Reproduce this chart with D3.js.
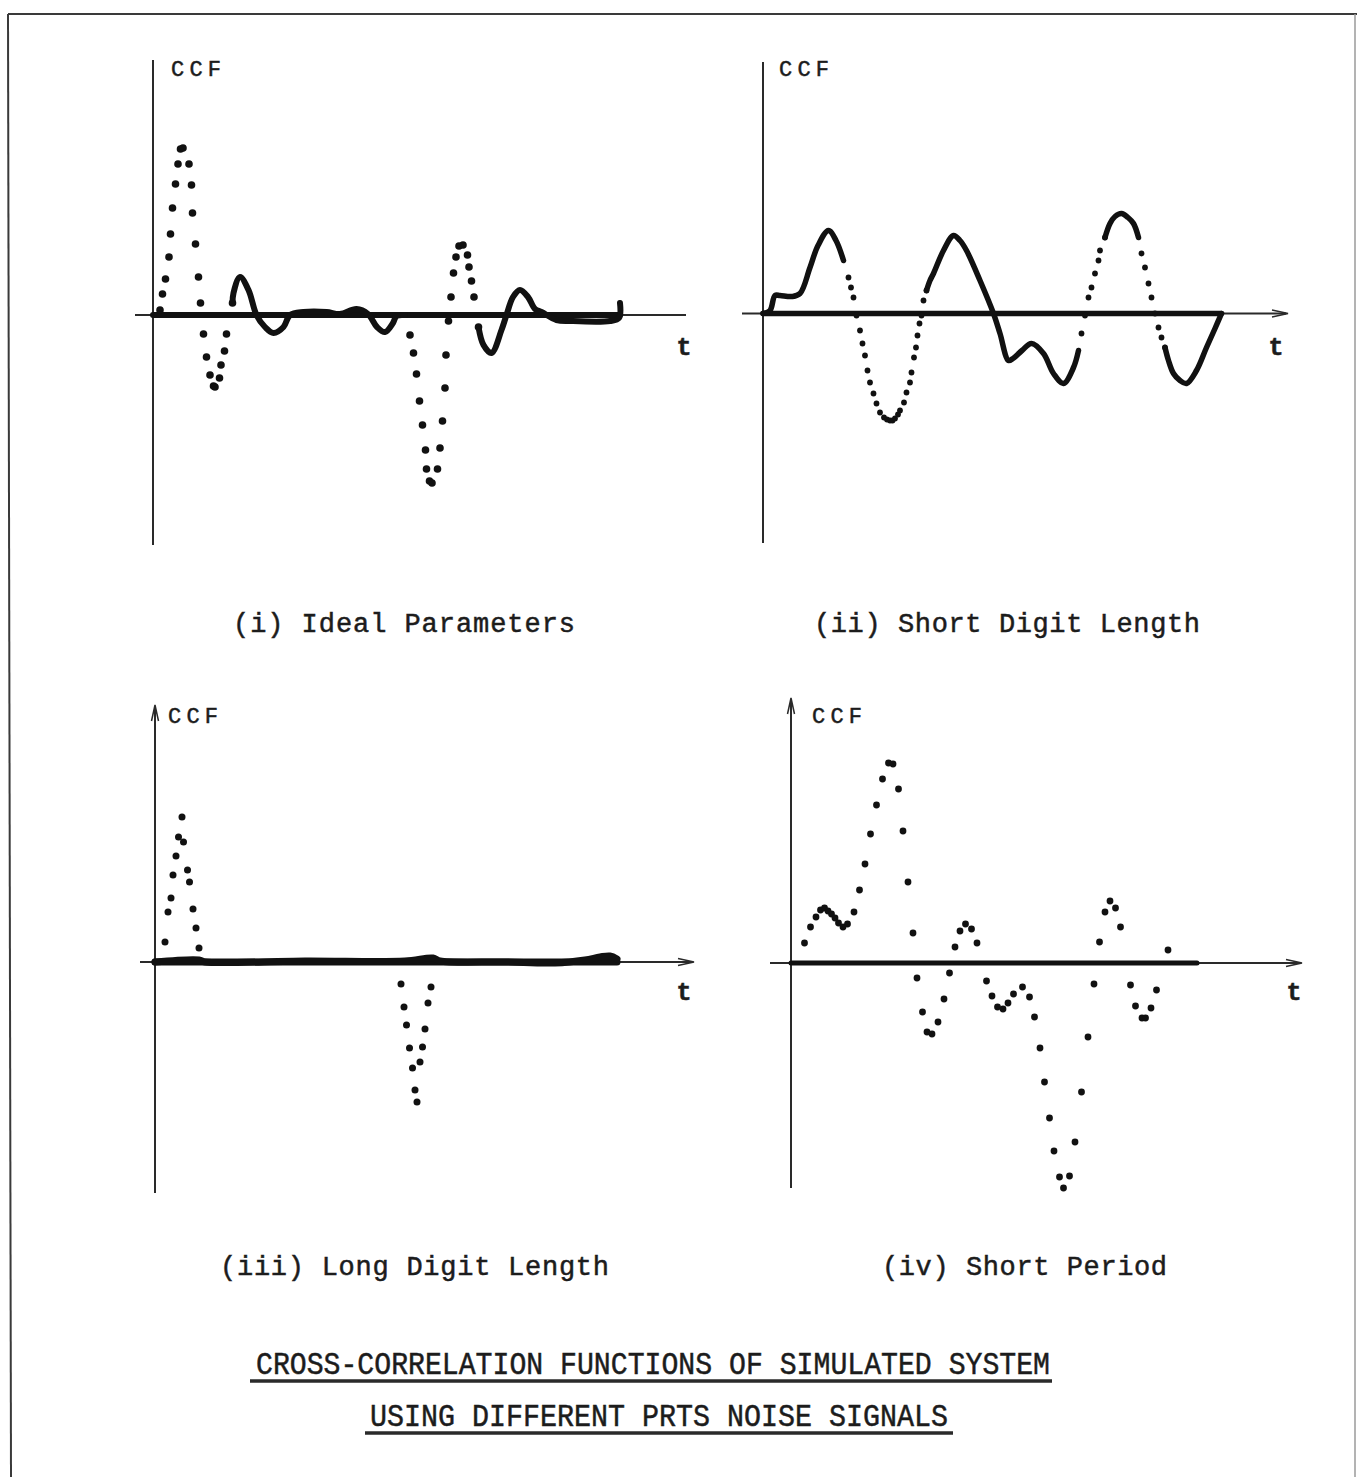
<!DOCTYPE html>
<html>
<head>
<meta charset="utf-8">
<script src="https://cdn.jsdelivr.net/npm/d3@7"></script>
<style>
  body { margin: 0; background: #fff; }
  svg { display: block; }
  text { font-family: "Liberation Mono", "Courier New", monospace; fill: #1c1c1c; stroke: #1c1c1c; stroke-width: 0.5px; }
</style>
</head>
<body>
<script>
// values: t in units of 5 px, CCF in units of 100 px

// (i) ideal parameters
var dotsI = [[1.4,0.05],[1.9,0.21],[2.5,0.36],[3.2,0.58],[3.5,0.81],[3.9,1.07],[4.5,1.31],[5.0,1.51],
  [5.5,1.66],[6.0,1.67],[7.2,1.51],[7.7,1.30],[7.9,1.02],[8.5,0.71],[9.1,0.38],[9.5,0.12],
  [10.1,-0.19],[10.7,-0.42],[11.4,-0.60],[12.1,-0.71],[12.4,-0.72],[13.3,-0.63],[13.6,-0.50],
  [14.3,-0.36],[14.7,-0.19],[15.9,0.12],
  [51.4,-0.20],[52.1,-0.38],[52.7,-0.59],[53.3,-0.86],[53.9,-1.10],[54.5,-1.35],[54.7,-1.54],
  [55.3,-1.66],[55.8,-1.68],[56.9,-1.54],[57.4,-1.33],[57.9,-1.06],[58.4,-0.73],[58.6,-0.40],
  [59.1,-0.06],[59.6,0.18],[60.1,0.42],[60.6,0.58],[61.2,0.69],[62.0,0.70],[62.9,0.60],
  [63.2,0.48],[63.7,0.34],[64.2,0.18],[65.1,-0.12]];
var traceI = [
  [[15.9,0.12],[16.1,0.22],[17.4,0.38],[19.1,0.25],[20.7,0],[22.4,-0.12],[24.1,-0.18],[26.1,-0.12],
   [27.4,0],[30.1,0.03],[34.7,0.03],[37.4,0.01],[40.7,0.06],[43.0,0.01],[44.8,-0.12],[46.4,-0.17],
   [48.0,-0.08],[48.7,-0.01],[50.4,0]],
  [[65.1,-0.12],[66.1,-0.30],[67.7,-0.38],[69.7,-0.15],[70.7,0],[72.0,0.18],[73.4,0.25],[75.0,0.18],
   [76.4,0.06],[77.7,0.03],[80.7,-0.05],[83.4,-0.06],[91.4,-0.06],[93.2,-0.03],[93.4,0.12]]
];
var endI = 93.4;

// (ii) short digit length
var dotsII = [[17.1,0.36],[17.6,0.26],[18.1,0.16],[18.7,-0.02],[19.4,-0.17],[19.9,-0.30],[20.4,-0.42],
  [20.9,-0.57],[21.4,-0.69],[22.1,-0.80],[22.7,-0.90],[23.4,-0.99],[24.2,-1.04],[24.8,-1.06],
  [25.4,-1.07],[25.9,-1.07],[26.4,-1.05],[27.0,-1.01],[27.4,-0.97],[28.2,-0.89],[28.7,-0.79],
  [29.4,-0.69],[29.7,-0.59],[30.2,-0.44],[30.6,-0.34],[30.9,-0.22],[31.3,-0.10],[31.7,-0.02],
  [32.1,0.13],[32.7,0.23],
  [63.7,-0.20],[64.4,-0.02],[65.1,0.16],[65.7,0.26],[66.4,0.40],[67.1,0.53],[67.4,0.63],[68.4,0.76],
  [75.7,0.60],[76.4,0.46],[77.1,0.30],[77.7,0.16],[78.4,0.0],[79.1,-0.14],[79.7,-0.24],[80.4,-0.34]];
var traceII = [
  [[0,0],[1.4,0.03],[2.4,0.18],[3.4,0.18],[5.8,0.17],[7.4,0.20],[9.4,0.46],[11.0,0.68],[13.1,0.83],
   [14.6,0.73],[16.1,0.53]],
  [[32.7,0.23],[33.4,0.33],[34.1,0.40],[36.1,0.63],[38.1,0.78],[39.4,0.73],[40.7,0.63],[43.4,0.33],
   [46.1,0.0],[47.4,-0.20],[49.1,-0.47],[50.0,-0.45],[51.8,-0.37],[53.7,-0.30],[56.1,-0.40],
   [58.1,-0.60],[60.1,-0.70],[62.1,-0.54],[63.1,-0.37]],
  [[68.4,0.76],[69.4,0.90],[70.4,0.97],[71.7,1.00],[73.0,0.96],[74.1,0.90],[75.1,0.76]],
  [[80.4,-0.34],[81.1,-0.47],[82.1,-0.60],[83.4,-0.67],[84.7,-0.70],[86.7,-0.57],[88.7,-0.34],
   [90.4,-0.15],[91.7,0.0]]
];
var endII = 91.7;

// (iii) long digit length
var dotsIII = [[2.0,0.20],[2.6,0.50],[3.2,0.64],[3.6,0.87],[4.2,1.06],[4.7,1.25],[5.4,1.45],[5.7,1.20],
  [6.5,0.92],[6.9,0.80],[7.6,0.53],[8.2,0.34],[8.8,0.14],
  [49.2,-0.22],[49.8,-0.45],[50.3,-0.63],[50.9,-0.86],[51.5,-1.06],[52.0,-1.28],[52.4,-1.40],
  [53.0,-1.00],[53.5,-0.85],[54.0,-0.67],[54.6,-0.41],[55.2,-0.25]];
var traceIII = [
  [[0,0],[8.8,0.02],[10,0.0],[30,0.01],[50,0.01],[55.6,0.04],[57,0.01],[70,0.0],[80,-0.01],
   [86,0.02],[89,0.05],[91,0.06],[92.4,0.03]]
];
var endIII = 92.4;

// (iv) short period
var dotsIV = [[2.7,0.20],[3.9,0.36],[5.0,0.46],[5.9,0.53],[6.7,0.55],[7.4,0.52],[8.1,0.49],[8.8,0.45],
  [9.5,0.40],[10.4,0.36],[11.3,0.39],[12.6,0.51],[13.7,0.73],[14.8,0.99],[15.9,1.29],[17.1,1.58],
  [18.3,1.84],[19.5,2.00],[20.4,1.99],[21.5,1.74],[22.4,1.32],[23.4,0.81],[24.4,0.30],[25.2,-0.15],
  [26.3,-0.49],[27.2,-0.69],[28.2,-0.71],[29.4,-0.59],[30.6,-0.36],[31.7,-0.10],[32.8,0.16],
  [33.8,0.32],[34.9,0.39],[36.1,0.34],[37.2,0.20],[39.1,-0.18],[40.2,-0.33],[41.3,-0.44],
  [42.4,-0.46],[43.4,-0.40],[44.5,-0.31],[46.3,-0.24],[47.7,-0.34],[48.7,-0.54],[49.8,-0.85],
  [50.7,-1.19],[51.7,-1.55],[52.6,-1.88],[53.7,-2.14],[54.5,-2.25],[55.7,-2.13],[56.8,-1.79],
  [58.1,-1.29],[59.4,-0.74],[60.6,-0.21],[61.7,0.21],[62.8,0.51],[63.8,0.62],[64.9,0.55],
  [65.9,0.36],[67.9,-0.22],[68.9,-0.43],[70.2,-0.55],[70.9,-0.55],[72.0,-0.45],[73.1,-0.27],
  [75.4,0.13]];
var traceIV = [];
var endIV = 81.2;

var captions = ["(i) Ideal Parameters", "(ii) Short Digit Length", "(iii) Long Digit Length", "(iv) Short Period"];
var titleLines = ["CROSS-CORRELATION FUNCTIONS OF SIMULATED SYSTEM", "USING DIFFERENT PRTS NOISE SIGNALS"];

var width = 1357, height = 1477;

var svg = d3.select("body").append("svg")
  .attr("width", width)
  .attr("height", height);

svg.append("rect").attr("width", width).attr("height", height).attr("fill", "#fff");

// page frame
svg.append("line").attr("x1", 8).attr("y1", 14).attr("x2", 1357).attr("y2", 14)
  .attr("stroke", "#3a3a3a").attr("stroke-width", 2);
svg.append("line").attr("x1", 8).attr("y1", 14).attr("x2", 11).attr("y2", height)
  .attr("stroke", "#3a3a3a").attr("stroke-width", 2);
svg.append("line").attr("x1", 1355).attr("y1", 14).attr("x2", 1355).attr("y2", height)
  .attr("stroke", "#9a9a9a").attr("stroke-width", 1.5);

var panels = [
  {ox: 153, oy: 315, top: 60, bottom: 545, left: 135, right: 686, r: 3.8, lw: 6, arrX: false, arrY: false,
   ccf: [171, 76], tl: [684, 355], cap: [404, 632, 342]},
  {ox: 763, oy: 313.5, top: 62, bottom: 543, left: 742, right: 1286, r: 2.9, lw: 5.5, arrX: true, arrY: false,
   ccf: [779, 76], tl: [1276, 355], cap: [1007, 632, 386]},
  {ox: 155, oy: 962, top: 707, bottom: 1193, left: 140, right: 692, r: 3.5, lw: 7, arrX: true, arrY: true,
   ccf: [168, 723], tl: [684, 1000], cap: [414.5, 1275, 389]},
  {ox: 791, oy: 963, top: 700, bottom: 1188, left: 770, right: 1300, r: 3.4, lw: 5, arrX: true, arrY: true,
   ccf: [812, 723], tl: [1294, 1000], cap: [1024.5, 1275, 285]}
];

var series = [
  {dots: dotsI, traces: traceI, end: endI},
  {dots: dotsII, traces: traceII, end: endII},
  {dots: dotsIII, traces: traceIII, end: endIII},
  {dots: dotsIV, traces: traceIV, end: endIV}
];

panels.forEach(function(p, i) {
  var s = series[i];
  var x = d3.scaleLinear().domain([0, 100]).range([p.ox, p.ox + 500]);
  var y = d3.scaleLinear().domain([-2.5, 2.5]).range([p.oy + 250, p.oy - 250]);
  var g = svg.append("g");

  // axes
  g.append("line")
    .attr("x1", p.ox).attr("x2", p.ox).attr("y1", p.top).attr("y2", p.bottom)
    .attr("stroke", "#2a2a2a").attr("stroke-width", 2);
  g.append("line")
    .attr("x1", p.left).attr("x2", p.right).attr("y1", y(0)).attr("y2", y(0))
    .attr("stroke", "#2a2a2a").attr("stroke-width", 2);
  if (p.arrY) {
    g.append("path")
      .attr("d", "M" + (p.ox - 3.5) + "," + (p.top + 14) + "L" + p.ox + "," + (p.top - 2) + "L" + (p.ox + 3.5) + "," + (p.top + 14))
      .attr("fill", "none").attr("stroke", "#2a2a2a").attr("stroke-width", 1.5);
  }
  if (p.arrX) {
    g.append("path")
      .attr("d", "M" + (p.right - 14) + "," + (y(0) - 3.5) + "L" + (p.right + 2) + "," + y(0) + "L" + (p.right - 14) + "," + (y(0) + 3.5))
      .attr("fill", "none").attr("stroke", "#2a2a2a").attr("stroke-width", 1.5);
  }

  // heavy zero trace where the curve was plotted
  g.append("line")
    .attr("x1", x(0)).attr("x2", x(s.end)).attr("y1", y(0)).attr("y2", y(0))
    .attr("stroke", "#111").attr("stroke-width", p.lw).attr("stroke-linecap", "round");

  var line = d3.line()
    .x(function(d) { return x(d[0]); })
    .y(function(d) { return y(d[1]); })
    .curve(d3.curveCatmullRom.alpha(0.5));

  g.selectAll("path.trace")
    .data(s.traces)
    .join("path")
    .attr("class", "trace")
    .attr("d", line)
    .attr("fill", "none")
    .attr("stroke", "#111")
    .attr("stroke-width", p.lw)
    .attr("stroke-linejoin", "round")
    .attr("stroke-linecap", "round");

  g.selectAll("circle")
    .data(s.dots)
    .join("circle")
    .attr("cx", function(d) { return x(d[0]); })
    .attr("cy", function(d) { return y(d[1]); })
    .attr("r", p.r)
    .attr("fill", "#111");

  // labels
  g.append("text")
    .attr("x", p.ccf[0]).attr("y", p.ccf[1])
    .attr("font-size", 22)
    .attr("textLength", 50).attr("lengthAdjust", "spacing")
    .text("CCF");
  g.append("text")
    .attr("x", p.tl[0]).attr("y", p.tl[1])
    .attr("text-anchor", "middle")
    .attr("font-size", 25).attr("font-weight", "bold")
    .text("t");
  g.append("text")
    .attr("x", p.cap[0] - p.cap[2] / 2).attr("y", p.cap[1])
    .attr("font-size", 27)
    .attr("textLength", p.cap[2]).attr("lengthAdjust", "spacing")
    .text(captions[i]);
});

// figure title, underlined
var titlePos = [{x: 256, y: 1374, len: 794, ux: [250, 1052], uy: 1381},
                {x: 370, y: 1426, len: 578, ux: [365, 953], uy: 1433}];
titleLines.forEach(function(t, i) {
  var tp = titlePos[i];
  svg.append("text")
    .attr("x", tp.x).attr("y", tp.y)
    .attr("font-size", 32)
    .attr("textLength", tp.len).attr("lengthAdjust", "spacingAndGlyphs")
    .text(t);
  svg.append("line")
    .attr("x1", tp.ux[0]).attr("x2", tp.ux[1]).attr("y1", tp.uy).attr("y2", tp.uy)
    .attr("stroke", "#2a2a2a").attr("stroke-width", 3.5);
});
</script>
</body>
</html>
